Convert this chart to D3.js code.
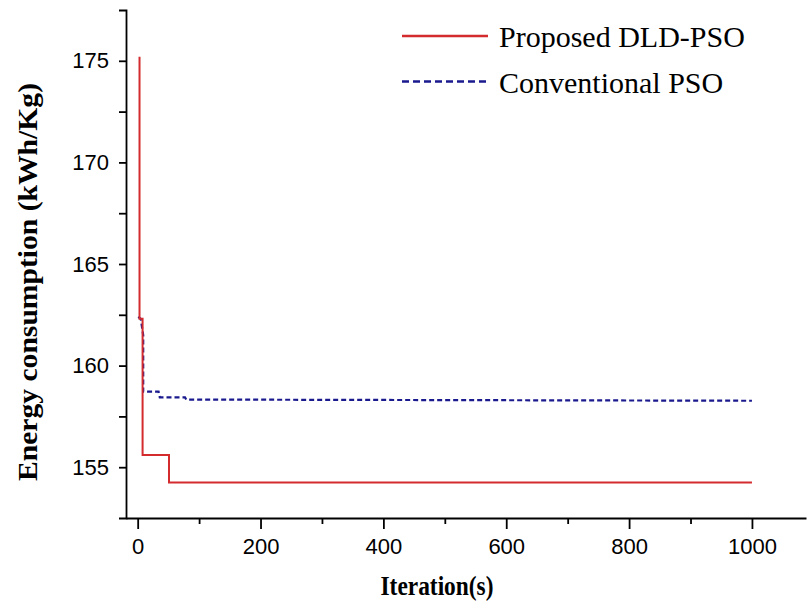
<!DOCTYPE html>
<html>
<head>
<meta charset="utf-8">
<script src="https://cdn.jsdelivr.net/npm/d3@7"></script>
<style>
body { margin: 0; background: #fff; }
svg { display: block; }
.tick text { font-family: 'Liberation Sans', Arial, sans-serif; font-size: 22px; fill: #000; }
.title { font-family: 'Liberation Serif', 'Times New Roman', serif; font-weight: bold; fill: #000; }
.legend text { font-family: 'Liberation Serif', 'Times New Roman', serif; font-size: 30px; fill: #000; }
</style>
</head>
<body>
<div id="chart"></div>
<script>
// series
var dldIter  = [3, 3, 8, 8, 51, 51, 1000]
var dldValue = [175.2, 162.3, 162.3, 155.6, 155.6, 154.25, 154.25]

var psoIter  = [1, 5, 9, 9, 34, 36, 77, 79, 1000]
var psoValue = [162.4, 162.3, 161.5, 158.72, 158.72, 158.44, 158.44, 158.33, 158.27]

var seriesNames = ['Proposed DLD-PSO', 'Conventional PSO']
var xTicks = [0, 200, 400, 600, 800, 1000]
var xMinor = [100, 300, 500, 700, 900]
var yTicks = [155, 160, 165, 170, 175]
var yMinor = [157.5, 162.5, 167.5, 172.5]

var W = 808, H = 605
var colors = { dld: '#d42b2f', pso: '#1a1a8e' }

var svg = d3.select('#chart').append('svg')
	.attr('width', W)
	.attr('height', H)

var x = d3.scaleLinear().domain([-19, 1088]).range([126, 806])
var y = d3.scaleLinear().domain([152.5, 177.5]).range([518, 10])

// minor ticks first, then the main axes over them
svg.append('g')
	.attr('transform', 'translate(0,518)')
	.call(d3.axisBottom(x).tickValues(xMinor).tickSize(6).tickFormat(''))
	.call(g => g.select('.domain').remove())
svg.append('g')
	.attr('transform', 'translate(126,0)')
	.call(d3.axisLeft(y).tickValues(yMinor).tickSize(7).tickFormat(''))
	.call(g => g.select('.domain').remove())

var xAxis = svg.append('g')
	.attr('transform', 'translate(0,518)')
	.call(d3.axisBottom(x).tickValues(xTicks).tickFormat(d3.format('d'))
		.tickSize(11).tickSizeOuter(0).tickPadding(9))
var yAxis = svg.append('g')
	.attr('transform', 'translate(126,0)')
	.call(d3.axisLeft(y).tickValues(yTicks).tickFormat(d3.format('d'))
		.tickSize(7).tickSizeOuter(7).tickPadding(10))

svg.selectAll('.domain, .tick line').attr('stroke', '#000').attr('stroke-width', 1.8)

function toPoints(xs, ys){
	return xs.map((e,i)=>[e, ys[i]])
}
var line = d3.line().x(d=>x(d[0])).y(d=>y(d[1]))

svg.append('path')
	.datum(toPoints(psoIter, psoValue))
	.attr('d', line)
	.attr('fill', 'none')
	.attr('stroke', colors.pso)
	.attr('stroke-width', 2.2)
	.attr('stroke-dasharray', '5,3')

svg.append('path')
	.datum(toPoints(dldIter, dldValue))
	.attr('d', line)
	.attr('fill', 'none')
	.attr('stroke', colors.dld)
	.attr('stroke-width', 2)

// axis titles
svg.append('text')
	.attr('class', 'title')
	.attr('x', 437).attr('y', 595)
	.attr('text-anchor', 'middle')
	.style('font-size', '27px')
	.attr('textLength', 113)
	.attr('lengthAdjust', 'spacingAndGlyphs')
	.text('Iteration(s)')

svg.append('text')
	.attr('class', 'title')
	.attr('transform', 'translate(37,282) rotate(-90)')
	.attr('text-anchor', 'middle')
	.style('font-size', '27px')
	.attr('textLength', 398)
	.attr('lengthAdjust', 'spacingAndGlyphs')
	.text('Energy consumption (kWh/Kg)')

// legend
var legend = svg.append('g').attr('class', 'legend')
var legendStyle = [
	{ color: colors.dld, dash: null, width: 2.4 },
	{ color: colors.pso, dash: '7,4', width: 2.4 }
]
seriesNames.forEach((e,i)=>{
	var g = legend.append('g').attr('transform', 'translate(402,' + (36 + i*45.5) + ')')
	g.append('line')
		.attr('x1', 0).attr('x2', 86)
		.attr('stroke', legendStyle[i].color)
		.attr('stroke-width', legendStyle[i].width)
		.attr('stroke-dasharray', legendStyle[i].dash)
	g.append('text')
		.attr('x', 97).attr('y', 11)
		.text(e)
})
</script>
</body>
</html>
